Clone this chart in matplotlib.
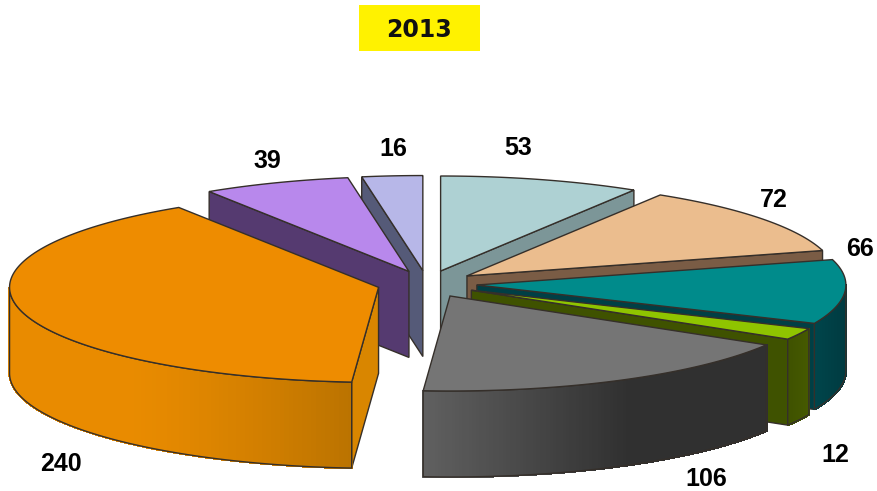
import numpy as np
import matplotlib
matplotlib.use('Agg')
import matplotlib.pyplot as plt
from matplotlib.patches import Polygon, Rectangle
from matplotlib.collections import PolyCollection
from matplotlib.colors import to_rgb

values = [53, 72, 66, 12, 106, 240, 39, 16]
top_colors = ['#aed1d3', '#ebbd8e', '#008b8b', '#8fc400', '#757575', '#ee8c00', '#b888ec', '#b7b7e8']
face_colors = ['#7c9698', '#7a5c45', '#003f45', '#3f5200', '#4a4a4a', '#d98600', '#553a70', '#555a78']
wall_left = ['#7c9698', '#7a5c45', '#00454b', '#3f5200', '#606060', '#e98b00', '#553a70', '#555a78']
wall_right = ['#7c9698', '#7a5c45', '#003a40', '#465a00', '#303030', '#bb7300', '#553a70', '#555a78']
label_pos = [(518, 148), (774, 200), (860, 249), (835, 455), (706, 479), (61, 464), (267, 161), (393, 149)]

# pie layout, in pixels of the picture
cx, cy = 427, 284
rx, ry = 369, 95
ex, ey = 50, 13.5
depth = 86
edge = '#352f2a'

total = sum(values)
ends = np.cumsum(values) / total * 360
starts = ends - np.array(values) / total * 360
mids = (starts + ends) / 2

fig = plt.figure(figsize=(8.77, 4.91), dpi=100)
ax = fig.add_axes([0, 0, 1, 1])
ax.set_xlim(0, 877)
ax.set_ylim(491, 0)
ax.axis('off')


def rim(x0, y0, a):
    a = np.radians(a)
    return x0 + rx * np.sin(a), y0 - ry * np.cos(a)


def side_face(x0, y0, a, color, z):
    x1, y1 = rim(x0, y0, a)
    pts = [(x0, y0), (x1, y1), (x1, y1 + depth), (x0, y0 + depth)]
    ax.add_patch(Polygon(pts, closed=True, fc=color, ec=edge, lw=1, zorder=z))


# back slices first, front ones paint over them
order = np.argsort(-np.cos(np.radians(mids)))
for n, i in enumerate(order):
    z = 2 + n
    m = np.radians(mids[i])
    x0 = cx + ex * np.sin(m)
    y0 = cy - ey * np.cos(m)
    a0, a1 = starts[i], ends[i]

    if np.sin(np.radians(a0)) < 0:
        side_face(x0, y0, a0, face_colors[i], z)
    if np.sin(np.radians(a1)) > 0:
        side_face(x0, y0, a1, face_colors[i], z)

    # outer wall, only the part turned towards the viewer
    w0, w1 = max(a0, 90), min(a1, 270)
    if w1 > w0:
        wa = np.linspace(w0, w1, 120)
        wx, wy = rim(x0, y0, wa)
        quads = []
        cols = []
        c_l = np.array(to_rgb(wall_left[i]))
        c_r = np.array(to_rgb(wall_right[i]))
        for k in range(len(wa) - 1):
            quads.append([(wx[k], wy[k]), (wx[k + 1], wy[k + 1]),
                          (wx[k + 1], wy[k + 1] + depth), (wx[k], wy[k] + depth)])
            t = (wx[k] - wx.min()) / (wx.max() - wx.min())
            if values[i] == 240:
                t = max(0, (t - 0.35) / 0.65) ** 1.3
            elif values[i] == 106:
                t = min(1, t / 0.6)
            cols.append(c_l + (c_r - c_l) * t)
        ax.add_collection(PolyCollection(quads, facecolors=cols, edgecolors=cols, linewidths=1,
                                         antialiaseds=False, zorder=z))
        outline = list(zip(wx, wy)) + list(zip(wx[::-1], wy[::-1] + depth))
        ax.add_patch(Polygon(outline, closed=True, fc='none', ec=edge, lw=1, zorder=z))

    # top surface
    ta = np.linspace(a0, a1, 120)
    tx, ty = rim(x0, y0, ta)
    top = [(x0, y0)] + list(zip(tx, ty))
    ax.add_patch(Polygon(top, closed=True, fc=top_colors[i], ec=edge, lw=1, zorder=z))

for v, (lx, ly) in zip(values, label_pos):
    ax.text(lx, ly, str(v), ha='center', va='center', fontsize=18, fontweight='bold',
            family='Liberation Sans', color='black', zorder=30)

ax.add_patch(Rectangle((359, 5), 121, 46, fc='#fff200', ec='none', zorder=30))
ax.text(419.5, 30, '2013', ha='center', va='center', fontsize=17, fontweight='bold',
        family='DejaVu Sans', color='#111111', zorder=31)

plt.savefig('out.png', dpi=100)
